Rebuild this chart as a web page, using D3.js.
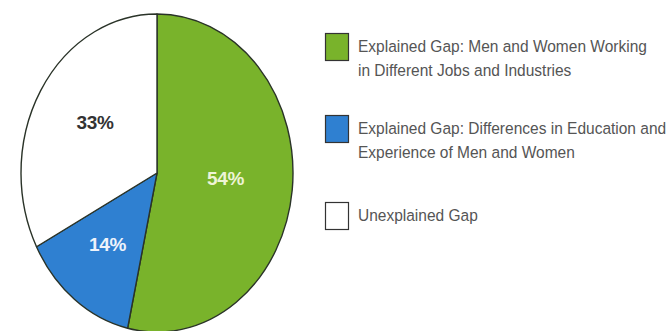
<!DOCTYPE html>
<html>
<head>
<meta charset="utf-8">
<script src="https://cdn.jsdelivr.net/npm/d3@7"></script>
<style>
  body { margin: 0; background: #fff; }
  svg { display: block; font-family: "Liberation Sans", Arial, sans-serif; }
</style>
</head>
<body>
<div id="chart"></div>
<script>
// Data
const categories = ["Explained Gap: Men and Women Working in Different Jobs and Industries",
                    "Explained Gap: Differences in Education and Experience of Men and Women",
                    "Unexplained Gap"];
const values = [54, 14, 33];
const valueLabels = ["54%", "14%", "33%"];
const legendLines = [
  ["Explained Gap: Men and Women Working", "in Different Jobs and Industries"],
  ["Explained Gap: Differences in Education and", "Experience of Men and Women"],
  ["Unexplained Gap"]
];

const width = 668, height = 331;
const colors = ["#79b32b", "#2f80d1", "#ffffff"];
const labelColors = ["#eef4d6", "#eef3fb", "#333333"];

const svg = d3.select("#chart").append("svg")
  .attr("width", width)
  .attr("height", height);

// pie is drawn as a circle and squeezed into an ellipse
const cx = 157, cy = 173, rx = 136, ry = 159;

let pie = d3.pie().sort(null).value(d => d);
let arcs = pie(values);

let arc = d3.arc().innerRadius(0).outerRadius(ry);

let pieG = svg.append("g")
  .attr("transform", "translate(" + cx + "," + cy + ") scale(" + (rx / ry) + ",1)");

pieG.selectAll("path")
  .data(arcs)
  .enter().append("path")
  .attr("d", arc)
  .attr("fill", (d, i) => colors[i])
  .attr("stroke", "#2a3328")
  .attr("stroke-width", 1.4)
  .attr("vector-effect", "non-scaling-stroke")
  .attr("stroke-linejoin", "round");

// label positions along the arcs
const labelRadius = [0.5, 0.55, 0.55];
const labelShift = [[1, -3], [-4, 2], [2, -5]];
svg.selectAll(".pct")
  .data(arcs)
  .enter().append("text")
  .attr("class", "pct")
  .attr("x", (d, i) => {
    let a = (d.startAngle + d.endAngle) / 2;
    return cx + Math.sin(a) * rx * labelRadius[i] + labelShift[i][0];
  })
  .attr("y", (d, i) => {
    let a = (d.startAngle + d.endAngle) / 2;
    return cy - Math.cos(a) * ry * labelRadius[i] + labelShift[i][1];
  })
  .attr("text-anchor", "middle")
  .attr("dominant-baseline", "central")
  .attr("font-size", 19)
  .attr("font-weight", "bold")
  .attr("letter-spacing", -0.3)
  .attr("fill", (d, i) => labelColors[i])
  .text((d, i) => valueLabels[i]);

// Legend
const swatchTops = [33, 115, 202];
let legend = svg.append("g");

let items = legend.selectAll(".item")
  .data(categories)
  .enter().append("g")
  .attr("class", "item")
  .attr("transform", (d, i) => "translate(325," + swatchTops[i] + ")");

items.append("rect")
  .attr("x", 0.5)
  .attr("y", 0.5)
  .attr("width", 23)
  .attr("height", 27)
  .attr("fill", (d, i) => colors[i])
  .attr("stroke", "#333")
  .attr("stroke-width", 1.2);

items.append("text")
  .attr("transform", "translate(33,0) scale(0.94,1)")
  .attr("font-size", 16.5)
  .attr("fill", "#555")
  .selectAll("tspan")
  .data((d, i) => legendLines[i])
  .enter().append("tspan")
  .attr("x", 0)
  .attr("y", (d, j) => 19.5 + j * 24)
  .text(d => d);
</script>
</body>
</html>
